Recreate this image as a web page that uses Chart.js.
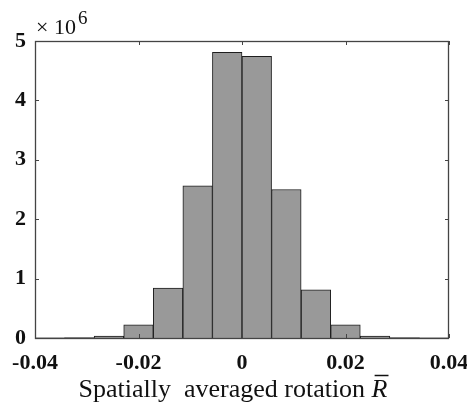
<!DOCTYPE html>
<html>
<head>
<meta charset="utf-8">
<script src="https://cdn.jsdelivr.net/npm/chart.js@4.4.1/dist/chart.umd.min.js"></script>
<style>
  html, body { margin: 0; padding: 0; background: #ffffff; }
  #wrap { width: 467px; height: 404px; position: relative; }
</style>
</head>
<body>
<div id="wrap"><canvas id="c" width="467" height="404"></canvas></div>
<script>
// Histogram bin centres (bin width 0.08/14)
const binCenters = [-0.037143, -0.031429, -0.025714, -0.02, -0.014286, -0.008571, -0.002857,
                     0.002857, 0.008571, 0.014286, 0.02, 0.025714, 0.031429, 0.037143];
// Counts per bin
const counts = [4000, 8000, 34000, 220000, 840000, 2560000, 4810000,
                4740000, 2500000, 810000, 220000, 34000, 8000, 4000];
const xTickValues = [-0.04, -0.02, 0, 0.02, 0.04];
const xTickLabels = ['-0.04', '-0.02', '0', '0.02', '0.04'];
const yTickValues = [0, 1e6, 2e6, 3e6, 4e6, 5e6];
const yTickLabels = ['0', '1', '2', '3', '4', '5'];
const xLabelText = 'Spatially  averaged rotation ';
const xLabelSymbol = 'R';

const tickFont = { family: "'Liberation Serif', 'Times New Roman', serif", size: 22, weight: 'bold' };

const framePlugin = {
  id: 'frame',
  afterDraw(chart) {
    const ctx = chart.ctx;
    const a = chart.chartArea;
    const xs = chart.scales.x, ys = chart.scales.y;
    ctx.save();
    ctx.strokeStyle = '#444444';
    ctx.lineWidth = 1.3;
    ctx.strokeRect(Math.round(a.left) + 0.5, Math.round(a.top) + 0.5,
                   Math.round(a.right - a.left) - 1, Math.round(a.bottom - a.top));
    const tl = 4;
    ctx.lineWidth = 1;
    ctx.beginPath();
    xTickValues.forEach(v => {
      const px = Math.round(xs.getPixelForValue(v)) + 0.5;
      ctx.moveTo(px, a.bottom); ctx.lineTo(px, a.bottom - tl);
      ctx.moveTo(px, a.top); ctx.lineTo(px, a.top + tl);
    });
    yTickValues.forEach(v => {
      const py = Math.round(ys.getPixelForValue(v)) + 0.5;
      ctx.moveTo(a.left, py); ctx.lineTo(a.left + tl, py);
      ctx.moveTo(a.right, py); ctx.lineTo(a.right - tl, py);
    });
    ctx.stroke();

    // exponent label
    ctx.fillStyle = '#111111';
    ctx.textBaseline = 'alphabetic';
    ctx.textAlign = 'left';
    ctx.font = "22px 'Liberation Serif', serif";
    ctx.fillText('\u00d7 10', a.left + 1, 34);
    ctx.font = "19px 'Liberation Serif', serif";
    ctx.fillText('6', a.left + 43, 24);

    // x axis title
    ctx.font = "26px 'Liberation Serif', serif";
    const w1 = ctx.measureText(xLabelText).width;
    ctx.font = "italic 26px 'Liberation Serif', serif";
    const w2 = ctx.measureText(xLabelSymbol).width;
    const cx = (a.left + a.right) / 2 - 9;
    const x0 = cx - (w1 + w2) / 2;
    const base = 397;
    ctx.font = "26px 'Liberation Serif', serif";
    ctx.fillText(xLabelText, x0, base);
    ctx.font = "italic 26px 'Liberation Serif', serif";
    ctx.fillText(xLabelSymbol, x0 + w1, base);
    ctx.strokeStyle = '#111111';
    ctx.lineWidth = 1.5;
    ctx.beginPath();
    ctx.moveTo(x0 + w1 + 3, base - 21.5);
    ctx.lineTo(x0 + w1 + w2 + 1, base - 21.5);
    ctx.stroke();
    ctx.restore();
  }
};

new Chart(document.getElementById('c'), {
  type: 'bar',
  data: {
    datasets: [{
      data: binCenters.map((x, i) => ({ x: x, y: counts[i] })),
      backgroundColor: '#999999',
      borderColor: '#1e1e1e',
      borderWidth: 1,
      barPercentage: 1.0,
      categoryPercentage: 1.0
    }]
  },
  options: {
    responsive: false,
    animation: false,
    devicePixelRatio: 1,
    layout: { padding: { top: 41, right: 18, left: 0, bottom: 0 } },
    plugins: { legend: { display: false }, tooltip: { enabled: false } },
    scales: {
      x: {
        type: 'linear',
        min: -0.04, max: 0.04,
        offset: false,
        grid: { display: false, drawTicks: false },
        border: { display: false },
        afterBuildTicks(scale) { scale.ticks = xTickValues.map(v => ({ value: v })); },
        afterFit(scale) { scale.height = 66; scale.paddingLeft = 0; scale.paddingRight = 0; },
        ticks: {
          padding: 12,
          color: '#111111',
          font: tickFont,
          maxRotation: 0,
          autoSkip: false,
          callback(v) { const i = xTickValues.findIndex(t => Math.abs(t - v) < 1e-9); return i >= 0 ? xTickLabels[i] : ''; }
        }
      },
      y: {
        min: 0, max: 5e6,
        grid: { display: false, drawTicks: false },
        border: { display: false },
        afterBuildTicks(scale) { scale.ticks = yTickValues.map(v => ({ value: v })); },
        afterFit(scale) { scale.width = 35; scale.paddingTop = 0; scale.paddingBottom = 0; },
        ticks: {
          padding: 9,
          color: '#111111',
          font: tickFont,
          autoSkip: false,
          callback(v) { const i = yTickValues.indexOf(v); return i >= 0 ? yTickLabels[i] : ''; }
        }
      }
    }
  },
  plugins: [framePlugin]
});
</script>
</body>
</html>
